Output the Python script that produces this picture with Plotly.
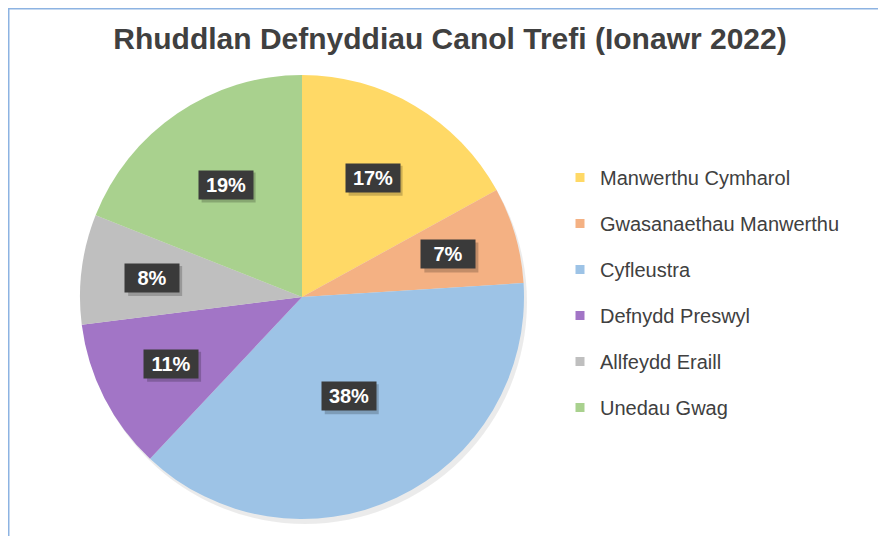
import math
import plotly.graph_objects as go

categories = ["Manwerthu Cymharol", "Gwasanaethau Manwerthu", "Cyfleustra",
              "Defnydd Preswyl", "Allfeydd Eraill", "Unedau Gwag"]
shares = [17, 7, 38, 11, 8, 19]
colours = ["#FFD966", "#F4B183", "#9DC3E6", "#A275C6", "#BFBFBF", "#A9D18E"]

W, H = 886, 536
cx, cy, R = 302, 297, 222  # pie centre / radius in screen px
FONT = "Liberation Sans, Arial, sans-serif"
BODY = 8  # default page margin around the plot div


def px(x):
    return (x - BODY) / W


def py(y):
    return 1 - (y - BODY) / H


dom_x = [px(cx - R), px(cx + R)]
dom_y = [py(cy + R), py(cy - R)]

fig = go.Figure()

# soft shadow under the pie
fig.add_trace(go.Pie(values=[1], marker=dict(colors=["rgba(0,0,0,0.08)"]),
                     domain=dict(x=[dom_x[0] + 3 / W, dom_x[1] + 3 / W],
                                 y=[dom_y[0] - 5 / H, dom_y[1] - 5 / H]),
                     textinfo="none", hoverinfo="skip", showlegend=False))

fig.add_trace(go.Pie(labels=categories, values=shares, sort=False,
                     direction="clockwise", rotation=0,
                     marker=dict(colors=colours, line=dict(width=0)),
                     textinfo="none", showlegend=False, domain=dict(x=dom_x, y=dom_y)))

# legend entries
for name, col in zip(categories, colours):
    fig.add_trace(go.Scatter(x=[None], y=[None], mode="markers", name=name,
                             legendgroup=name,
                             marker=dict(symbol="square", size=9, color=col)))

# percentage labels in dark boxes
total = sum(shares)
cum = 0
for v in shares:
    mid = (cum + v / 2) / total * 2 * math.pi
    cum += v
    r = R * (0.73 - 0.62 * v / total)
    tx = cx + r * math.sin(mid)
    ty = cy - r * math.cos(mid)
    # drop shadow behind the box
    fig.add_shape(type="rect", xref="paper", yref="paper", layer="above",
                  x0=px(tx - 27 + 3), x1=px(tx + 27 + 3),
                  y0=py(ty + 15 + 3), y1=py(ty - 15 + 3),
                  fillcolor="rgba(0,0,0,0.2)", line=dict(width=0))
    fig.add_annotation(text=f"<b>{round(v / total * 100)}%</b>",
                       x=px(tx), y=py(ty), xref="paper", yref="paper",
                       xanchor="center", yanchor="middle",
                       showarrow=False, borderpad=3, width=48, bgcolor="#3A3A3A",
                       font=dict(family=FONT, size=20, color="white"))

# frame lines (top / left)
fig.add_shape(type="line", xref="paper", yref="paper", x0=0, x1=1, y0=1, y1=1,
              line=dict(color="#8DB3E2", width=3))
fig.add_shape(type="line", xref="paper", yref="paper", x0=0, x1=0, y0=0, y1=1,
              line=dict(color="#8DB3E2", width=3))

fig.update_layout(
    width=W, height=H,
    margin=dict(l=0, r=0, t=0, b=0),
    paper_bgcolor="white", plot_bgcolor="white",
    title=dict(text="<b>Rhuddlan Defnyddiau Canol Trefi (Ionawr 2022)</b>",
               x=px(450), xanchor="center", y=py(38), yanchor="middle",
               font=dict(family=FONT, size=30, color="#404040")),
    xaxis=dict(visible=False), yaxis=dict(visible=False),
    legend=dict(x=px(560), y=py(158), xanchor="left", yanchor="top",
                tracegroupgap=17, font=dict(family=FONT, size=20, color="#404040"),
                bgcolor="rgba(0,0,0,0)"),
)

fig.write_html("out.html")
